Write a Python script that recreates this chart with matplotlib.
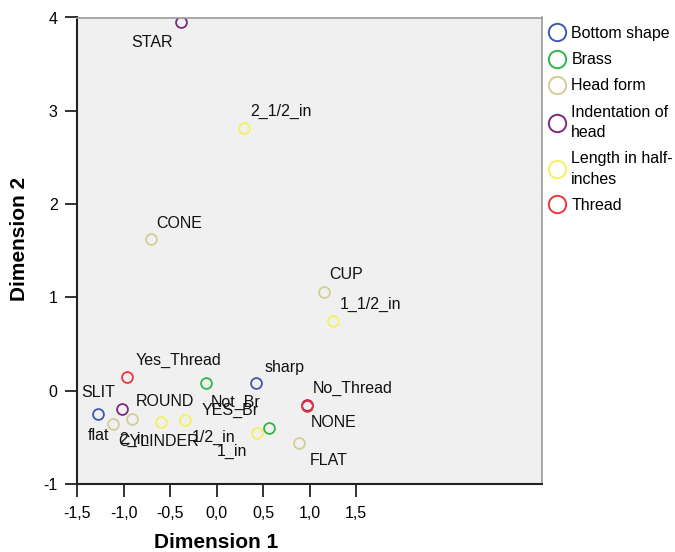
import matplotlib
matplotlib.use("Agg")
import matplotlib.pyplot as plt
from matplotlib.lines import Line2D

plt.rcParams['font.family'] = ['Liberation Sans', 'DejaVu Sans']

# categorie e coordinate
bottom_names = ['sharp', 'flat']
bottom_x = [0.43, -1.27]
bottom_y = [0.08, -0.25]

brass_names = ['Not_Br', 'YES_Br']
brass_x = [-0.11, 0.56]
brass_y = [0.08, -0.40]

head_names = ['CONE', 'CUP', 'CYLINDER', 'ROUND', 'FLAT']
head_x = [-0.70, 1.16, -1.11, -0.91, 0.89]
head_y = [1.63, 1.06, -0.36, -0.30, -0.56]

indent_names = ['STAR', 'SLIT', 'NONE']
indent_x = [-0.38, -1.02, 0.97]
indent_y = [3.95, -0.20, -0.15]

length_names = ['2_1/2_in', '1_1/2_in', '2_in', '1/2_in', '1_in']
length_x = [0.30, 1.25, -0.60, -0.34, 0.44]
length_y = [2.82, 0.75, -0.34, -0.31, -0.45]

thread_names = ['Yes_Thread', 'No_Thread']
thread_x = [-0.96, 0.97]
thread_y = [0.15, -0.16]

legend_labels = ['Bottom shape', 'Brass', 'Head form', 'Indentation of\nhead',
                 'Length in half-\ninches', 'Thread']
colors = ['#3E58AC', '#2EB848', '#D3CE97', '#7C287D', '#F5F060', '#EF3338']

x_ticks = [-1.5, -1.0, -0.5, 0.0, 0.5, 1.0, 1.5]
y_ticks = [-1, 0, 1, 2, 3, 4]

# spostamento delle etichette (pixel, y verso il basso)
offsets = {
    'sharp': (28, -16), 'flat': (0, 21),
    'Not_Br': (29, 19), 'YES_Br': (-38, -18),
    'CONE': (28, -15), 'CUP': (22, -17), 'CYLINDER': (45, 17),
    'ROUND': (33, -17), 'FLAT': (29, 18),
    'STAR': (-29, 20), 'SLIT': (-23, -17), 'NONE': (27, 18),
    '2_1/2_in': (37, -16), '1_1/2_in': (38, -16), '2_in': (-26, 17),
    '1/2_in': (29, 18), '1_in': (-25, 19),
    'Yes_Thread': (51, -16), 'No_Thread': (46, -17),
}

groups = [
    (bottom_names, bottom_x, bottom_y),
    (brass_names, brass_x, brass_y),
    (head_names, head_x, head_y),
    (indent_names, indent_x, indent_y),
    (length_names, length_x, length_y),
    (thread_names, thread_x, thread_y),
]

fig = plt.figure(figsize=(6.75, 5.52), dpi=100)
ax = fig.add_axes([77 / 675, 68 / 552, 465 / 675, 466.5 / 552])
ax.set_facecolor('#F0F0F0')

for (names, xs, ys), col in zip(groups, colors):
    ax.plot(xs, ys, linestyle='none', marker='o', markersize=7.8,
            markerfacecolor='none', markeredgecolor=col, markeredgewidth=1.3)
    for n, x, y in zip(names, xs, ys):
        dx, dy = offsets[n]
        ax.annotate(n, (x, y), xytext=(dx, -dy), textcoords='offset pixels',
                    ha='center', va='center', fontsize=11.5, color='#111111')

ax.set_xlim(-1.5, 3.5)
ax.set_ylim(-1, 4)
ax.set_xticks(x_ticks)
ax.set_xticklabels([f"{v:.1f}".replace('.', ',') for v in x_ticks])
ax.set_yticks(y_ticks)
ax.set_yticklabels([str(v) for v in y_ticks])
ax.tick_params(axis='both', length=9, width=1.3, labelsize=11.5, color='#222222')
ax.tick_params(axis='x', pad=7)
ax.tick_params(axis='y', pad=5)

for s in ['left', 'bottom']:
    ax.spines[s].set_color('#222222')
    ax.spines[s].set_linewidth(1.5)
for s in ['top', 'right']:
    ax.spines[s].set_color('#9a9a9a')
    ax.spines[s].set_linewidth(1.2)

fig.text(215.7 / 675, 1 - 542 / 552, 'Dimension 1', ha='center', va='center',
         fontsize=15, fontweight='bold')
fig.text(20 / 675, 1 - 239 / 552, 'Dimension 2', ha='center', va='center',
         rotation=90, fontsize=15, fontweight='bold')

handles = [Line2D([], [], linestyle='none', marker='o', markersize=12.5,
                  markerfacecolor='none', markeredgecolor=c, markeredgewidth=1.4)
           for c in colors]
leg = fig.legend(handles, legend_labels, loc='upper left',
                 bbox_to_anchor=(549 / 675, 1 - 26 / 552), frameon=False,
                 fontsize=11.5, borderpad=0, borderaxespad=0, handlelength=1.0,
                 handletextpad=0.4, labelspacing=0.7)
for t in leg.get_texts():
    t.set_linespacing(1.45)

fig.savefig('out.png', dpi=100)
